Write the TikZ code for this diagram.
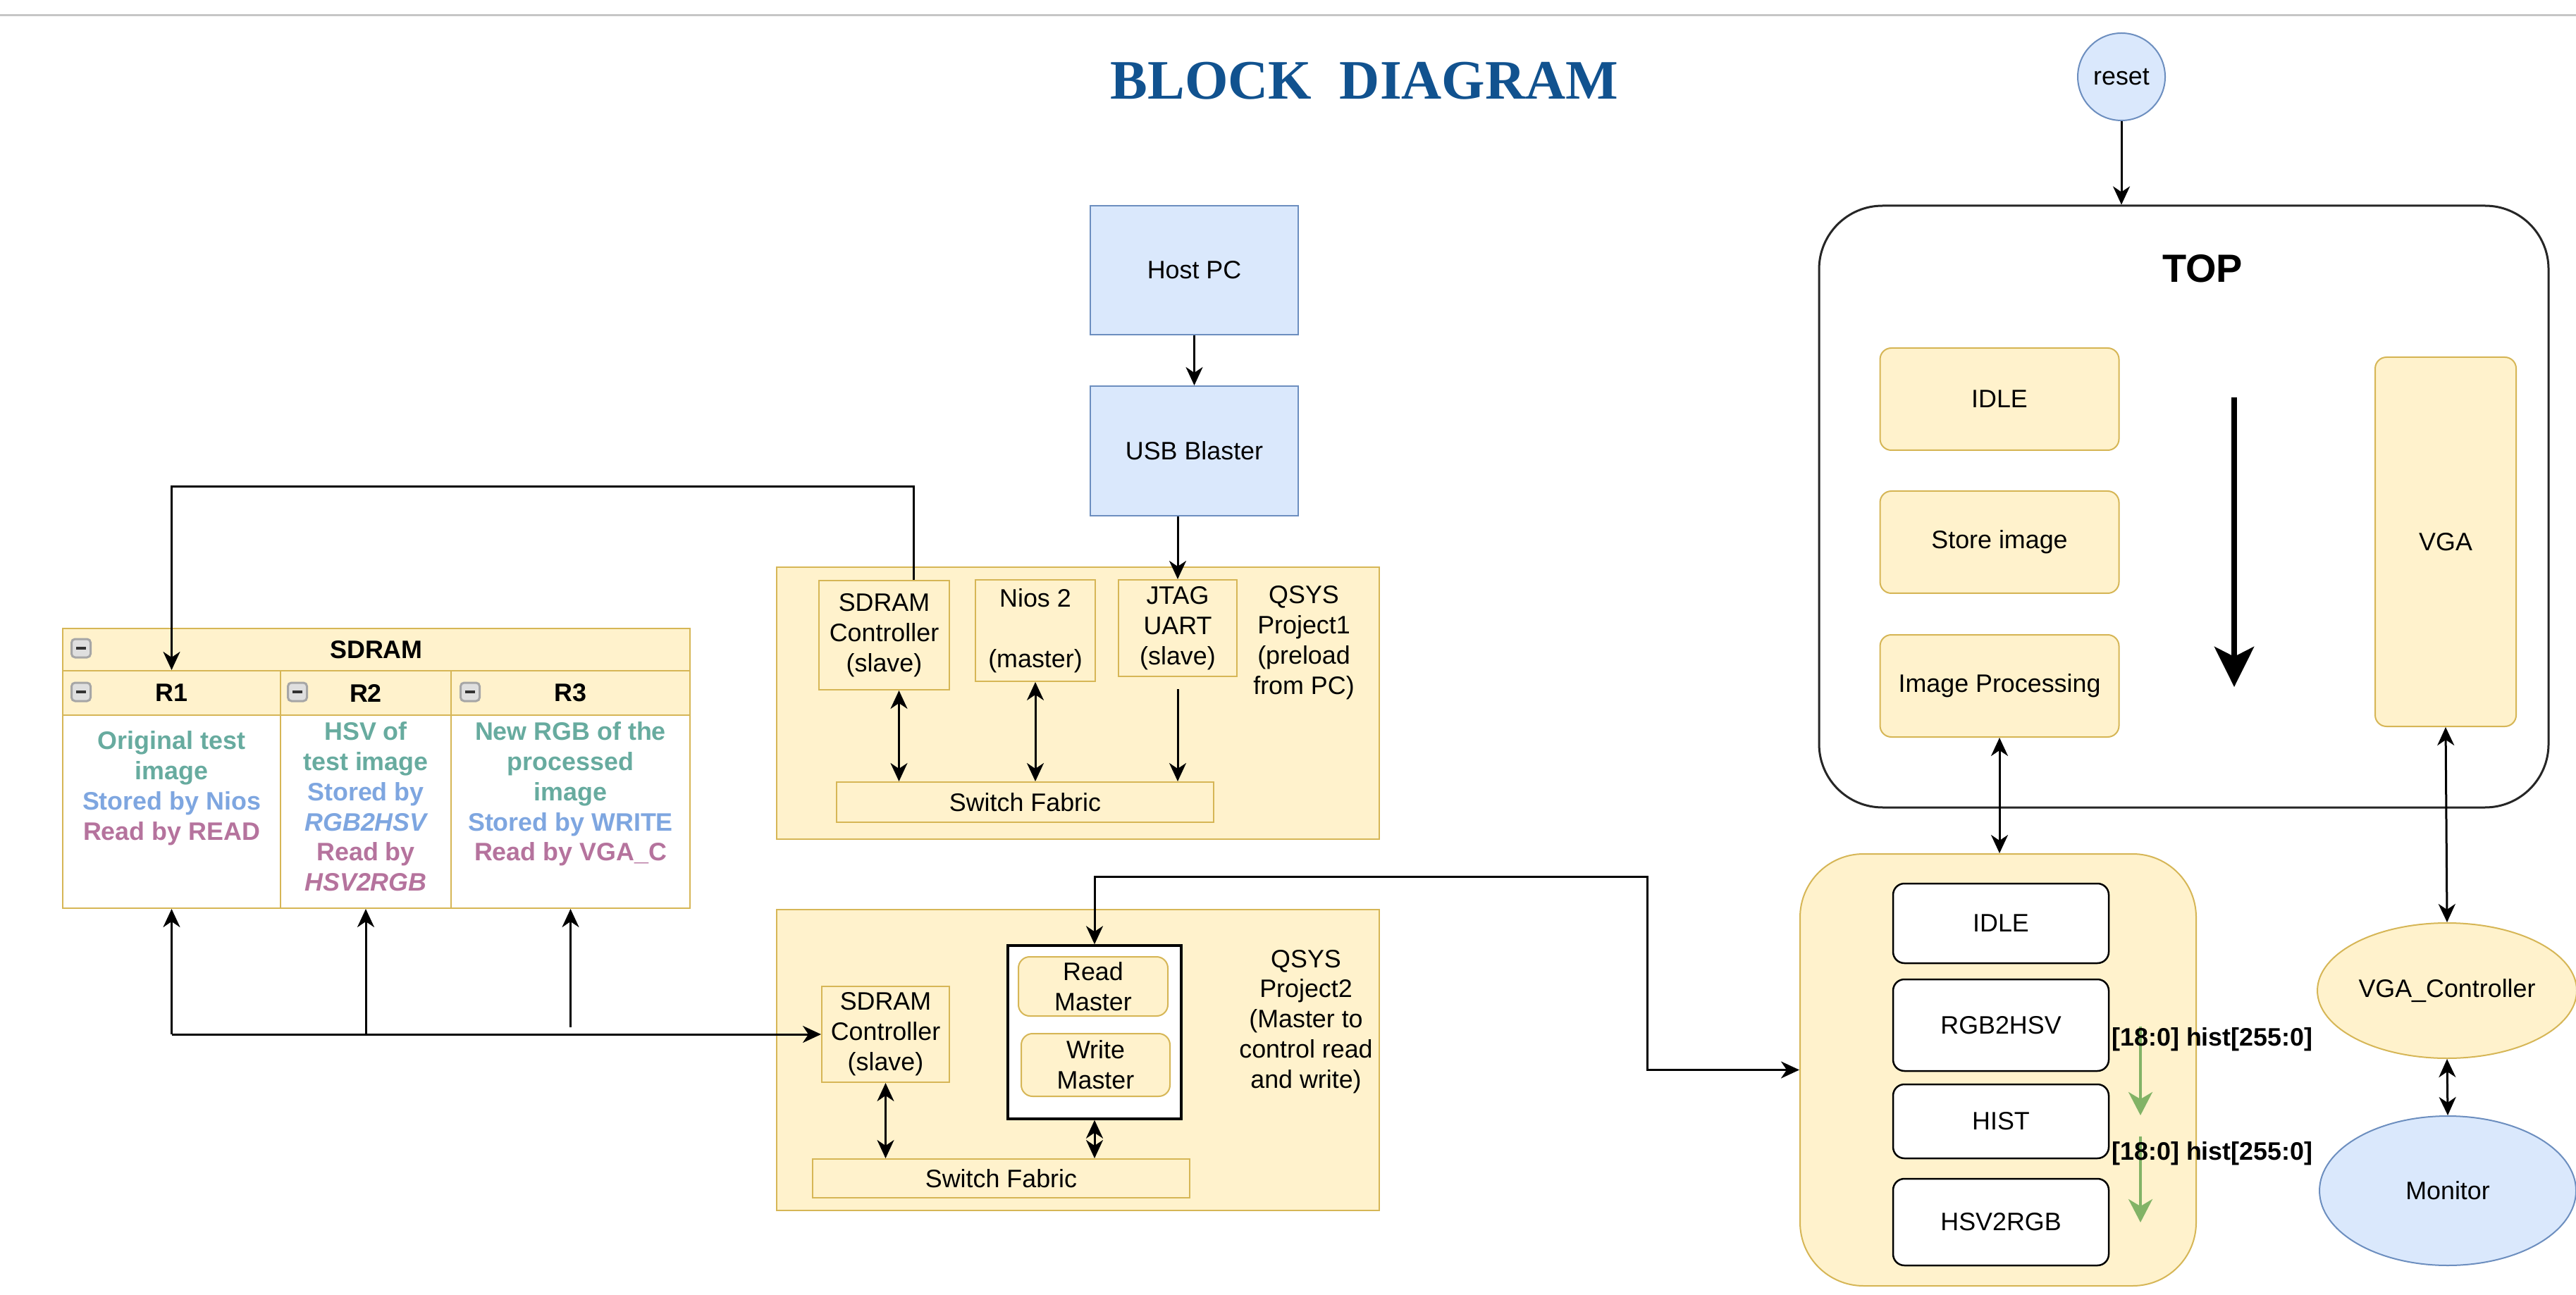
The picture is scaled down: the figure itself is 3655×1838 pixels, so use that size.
\documentclass[tikz,border=0pt]{standalone}
\usepackage{fontspec}
\setmainfont{Liberation Sans}
\newfontfamily\titlefont{Liberation Serif}
\usepackage{tikz}
\usetikzlibrary{arrows.meta,shapes.geometric,positioning}

\definecolor{yfill}{HTML}{FFF2CC}
\definecolor{ydraw}{HTML}{D6B656}
\definecolor{bfill}{HTML}{DAE8FC}
\definecolor{bdraw}{HTML}{6C8EBF}
\definecolor{gline}{HTML}{82B366}
\definecolor{tgreen}{HTML}{67AB9F}
\definecolor{tblue}{HTML}{7EA6E0}
\definecolor{tpink}{HTML}{B5739D}
\definecolor{titleblue}{HTML}{11528F}

\newcommand{\dio}{\fontsize{10.2}{12.2}\selectfont}
\newcommand{\gr}[1]{\textcolor{tgreen}{#1}}
\newcommand{\bl}[1]{\textcolor{tblue}{#1}}
\newcommand{\pk}[1]{\textcolor{tpink}{#1}}

\begin{document}
\begin{tikzpicture}[x=0.1mm,y=-0.1mm,>={Stealth[length=2.6mm,width=2.4mm,inset=0.8mm]},line width=0.3mm,font=\dio]
                \tikzstyle{yellowbox}=[rectangle,draw=ydraw,fill=yfill,line width=0.2mm,align=center,inner sep=0pt]
                \tikzstyle{bluebox}=[rectangle,draw=bdraw,fill=bfill,line width=0.2mm,align=center,inner sep=0pt]
                \tikzstyle{roundbox}=[yellowbox,rounded corners=1.6mm]
                \tikzstyle{state}=[rectangle,draw=black,fill=white,rounded corners=1.6mm,line width=0.25mm,minimum width=30.6mm,inner sep=0pt]
                \tikzstyle{cell}=[rectangle,draw=ydraw,line width=0.2mm,inner sep=0pt,font=\dio\bfseries]
                \tikzstyle{minusicon}=[rectangle,draw=gray!70,fill=gray!25,rounded corners=0.5mm,minimum width=2.7mm,minimum height=2.6mm,inner sep=0pt,
                        path picture={\draw[line width=0.35mm,gray!40!black] ([xshift=-0.7mm]path picture bounding box.center) -- ([xshift=0.7mm]path picture bounding box.center);}]
                \tikzstyle{memtext}=[align=center,font=\dio\bfseries,anchor=north,inner sep=0pt]

                \useasboundingbox (0,0) rectangle (3655,1838);
                \fill[white] (0,0) rectangle (3655,1838);
                \draw[line width=0.3mm,gray!45] (0,22) -- (3655,22);

                \node[font={\titlefont\bfseries\fontsize{22.5}{27}\selectfont},text=titleblue] (title) at (1936,115) {BLOCK\ \ DIAGRAM};

                % host side
                \node[bluebox,minimum width=29.5mm,minimum height=18.3mm] (hostpc) at (1694.5,383.5) {Host PC};
                \node[bluebox,minimum width=29.5mm,minimum height=18.4mm] (usb) at (1694.5,640) {USB Blaster};

                % qsys project 1
                \node[yellowbox,minimum width=85.5mm,minimum height=38.6mm] (qsys-1) at (1529.5,998) {};
                \node[yellowbox,minimum width=18.5mm,minimum height=15.5mm] (sdramc-1) at (1254.5,901.5) {SDRAM\\Controller\\(slave)};
                \node[yellowbox,minimum width=17mm,minimum height=14.4mm] (nios) at (1469,895) {Nios 2\\[12.2pt](master)};
                \node[yellowbox,minimum width=16.8mm,minimum height=13.7mm] (jtag) at (1671,891.5) {JTAG\\UART\\(slave)};
                \node[yellowbox,minimum width=53.5mm,minimum height=5.7mm] (sf-1) at (1454.5,1138.5) {Switch Fabric};
                \node[align=center,inner sep=0pt] (qsys-1-lbl) at (1850,912) {QSYS\\Project1\\(preload\\from PC)};

                % qsys project 2
                \node[yellowbox,minimum width=85.5mm,minimum height=42.7mm] (qsys-2) at (1529.5,1504.5) {};
                \node[yellowbox,minimum width=18.1mm,minimum height=13.6mm] (sdramc-2) at (1256.5,1468) {SDRAM\\Controller\\(slave)};
                \node[rectangle,draw=black,fill=white,line width=0.35mm,minimum width=24.6mm,minimum height=24.6mm] (rw) at (1553,1465) {};
                \node[roundbox,minimum width=21.2mm,minimum height=8.4mm] (rdm) at (1551,1400) {Read\\Master};
                \node[roundbox,minimum width=21.1mm,minimum height=8.9mm] (wrm) at (1554.5,1511.5) {Write\\Master};
                \node[yellowbox,minimum width=53.5mm,minimum height=5.5mm] (sf-2) at (1420.5,1672.5) {Switch Fabric};
                \node[align=center,inner sep=0pt] (qsys-2-lbl) at (1853,1450) {QSYS\\Project2\\(Master to\\control read\\and write)};

                % sdram table
                \node[cell,fill=yfill,minimum width=89mm,minimum height=6mm] (sdram-hd) at (534,922) {SDRAM};
                \foreach \num/\x/\w in {1/243.5/30.9, 2/519/24.2, 3/809.5/33.9} {
                        \node[cell,fill=yfill,minimum width=\w mm,minimum height=6.3mm] (R\num-hd) at (\x,983.5) {R\num};
                        \node[cell,fill=white,minimum width=\w mm,minimum height=27.4mm] (R\num-bd) at (\x,1152) {};
                }
                \foreach \num/\x/\y in {0/115/920, 1/115/982, 2/422/982, 3/667/982}
                        \node[minusicon] (icon-\num) at (\x,\y) {};
                \node[memtext] (R1-txt) at (243.5,1036) {\gr{Original test}\\\gr{image}\\\bl{Stored by Nios}\\\pk{Read by READ}};
                \node[memtext] (R2-txt) at (519,1023) {\gr{HSV of}\\\gr{test image}\\\bl{Stored by}\\\bl{\itshape RGB2HSV}\\\pk{Read by}\\\pk{\itshape HSV2RGB}};
                \node[memtext] (R3-txt) at (809.5,1023) {\gr{New RGB of the}\\\gr{processed}\\\gr{image}\\\bl{Stored by WRITE}\\\pk{Read by VGA\_C}};

                % top module
                \node[circle,draw=bdraw,fill=bfill,line width=0.2mm,minimum size=12.4mm,inner sep=0pt] (reset) at (3010,109) {reset};
                \node[rectangle,draw=black!85,rounded corners=9mm,line width=0.3mm,minimum width=103.5mm,minimum height=85.4mm] (top) at (3098.5,719) {};
                \node[font={\fontsize{15.9}{19}\selectfont\bfseries}] (top-lbl) at (3125,381) {TOP};
                \foreach \num/\y/\txt in {1/566.5/IDLE, 2/769.5/Store image, 3/973.5/Image Processing}
                        \node[roundbox,minimum width=33.9mm,minimum height=14.5mm] (T-\num) at (2837,\y) {\txt};
                \node[roundbox,minimum width=20mm,minimum height=52.4mm] (vga) at (3470,769) {VGA};
                \coordinate (flow-a) at (3170,564);
                \coordinate (flow-b) at (3170,975);
                \draw[line width=0.8mm,-{Stealth[length=5.7mm,width=5.6mm,inset=1.4mm]}] (flow-a) -- (flow-b);

                % processing states
                \node[yellowbox,rounded corners=9mm,minimum width=56.2mm,minimum height=61.3mm] (fsm) at (2835,1518.5) {};
                \foreach \num/\y/\h/\txt in {1/1310.5/11.3/IDLE, 2/1455/13/RGB2HSV, 3/1591.5/10.5/HIST, 4/1734.5/12.3/HSV2RGB}
                        \node[state,minimum height=\h mm] (S-\num) at (2839,\y) {\txt};
                \coordinate (h-1a) at (3037,1457);
                \coordinate (h-1b) at (3037,1583);
                \coordinate (h-2a) at (3037,1613);
                \coordinate (h-2b) at (3037,1735);
                \foreach \num in {1,2}
                        \draw[gline,line width=0.4mm,-{Stealth[length=3.3mm,width=3.4mm,inset=1mm]}] (h-\num a) -- (h-\num b);
                \node[font=\dio\bfseries,anchor=west,inner sep=0pt] (hist-1) at (2995,1475) {[18:0] hist[255:0]};
                \node[font=\dio\bfseries,anchor=west,inner sep=0pt] (hist-2) at (2995,1637) {[18:0] hist[255:0]};

                \node[ellipse,draw=ydraw,fill=yfill,line width=0.2mm,minimum width=36.8mm,minimum height=19.2mm,inner sep=0pt] (vgac) at (3472,1406) {VGA\_Controller};
                \node[ellipse,draw=bdraw,fill=bfill,line width=0.2mm,minimum width=36.4mm,minimum height=21.2mm,inner sep=0pt] (monitor) at (3473,1690) {Monitor};

                % connections
                \draw[->] (reset) -- (reset |- top.north);
                \draw[->] (hostpc) -- (usb);
                \draw[->] (jtag.north |- usb.south) -- (jtag.north);
                \draw[<->] ([xshift=2.1mm]sdramc-1.south) -- ([xshift=2.1mm]sdramc-1.south |- sf-1.north);
                \draw[<->] (nios.south) -- (nios.south |- sf-1.north);
                \draw[->] ([yshift=-1.7mm]jtag.south) -- (jtag.south |- sf-1.north);
                \draw[->] ([xshift=4.15mm]sdramc-1.north) -- ++(0,-132) -| (R1-hd.north);

                \draw[<->] (sdramc-2.south) -- (sdramc-2.south |- sf-2.north);
                \draw[<->] (rw.south) -- (rw.south |- sf-2.north);
                \coordinate (bend) at (2337,1244);
                \draw[<->] (rw.north) |- (bend) |- (fsm.west);

                \coordinate (bus-1) at (R1-bd.south |- sdramc-2.west);
                \coordinate (bus-2) at (R2-bd.south |- sdramc-2.west);
                \coordinate (bus-3) at ([yshift=1mm]R3-bd.south |- sdramc-2.west);
                \draw[->] (bus-1) -- (sdramc-2.west);
                \foreach \num in {1,2,3}
                        \draw[->] (bus-\num) -- (R\num-bd.south);

                \draw[<->] (T-3.south) -- (T-3.south |- fsm.north);
                \draw[<->] (vga.south) -- (vgac.north);
                \draw[<->] (vgac.south) -- (monitor.north);
            \end{tikzpicture}
\end{document}
